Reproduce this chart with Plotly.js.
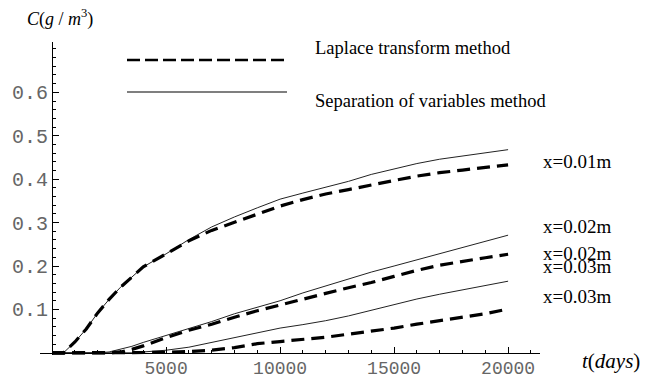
<!DOCTYPE html>
<html>
<head>
<meta charset="utf-8">
<script src="https://cdn.plot.ly/plotly-3.0.1.min.js"></script>
<style>
  html, body { margin: 0; padding: 0; background: #fff; }
  #chart { width: 661px; height: 381px; }
</style>
</head>
<body>
<div id="chart"></div>
<script>
// Time axis (days)
const days = [0, 500, 1000, 1500, 2000, 2500, 3000, 3500, 4000, 5000, 6000, 7000, 8000,
              9000, 10000, 11000, 12000, 13000, 14000, 15000, 16000, 17000, 18000, 19000, 20000];

// Concentration C (g/m^3), separation of variables method
const sepX01 = [0, 0, 0.025, 0.055, 0.092, 0.123, 0.151, 0.175, 0.198, 0.228, 0.261, 0.290, 0.313,
                0.334, 0.354, 0.368, 0.382, 0.395, 0.411, 0.424, 0.436, 0.446, 0.453, 0.461, 0.468];
const sepX02 = [0, 0, 0, 0, 0, 0.002, 0.008, 0.015, 0.024, 0.040, 0.056, 0.072, 0.090,
                0.105, 0.120, 0.138, 0.154, 0.170, 0.186, 0.200, 0.214, 0.229, 0.243, 0.257, 0.271];
const sepX03 = [0, 0, 0, 0, 0, 0, 0, 0, 0.002, 0.006, 0.013, 0.024, 0.035,
                0.046, 0.057, 0.065, 0.074, 0.085, 0.098, 0.111, 0.124, 0.135, 0.145, 0.155, 0.165];

// Concentration C (g/m^3), Laplace transform method
const lapX01 = [0, 0, 0.025, 0.055, 0.092, 0.123, 0.151, 0.175, 0.198, 0.228, 0.258, 0.282, 0.301,
                0.320, 0.338, 0.353, 0.366, 0.376, 0.387, 0.397, 0.407, 0.415, 0.421, 0.427, 0.433];
const lapX02 = [0, 0, 0, 0, 0, 0, 0.002, 0.008, 0.016, 0.035, 0.052, 0.066, 0.082,
                0.097, 0.110, 0.124, 0.137, 0.150, 0.162, 0.176, 0.190, 0.202, 0.211, 0.219, 0.227];
const lapX03 = [0, 0, 0, 0, 0, 0, 0, 0, 0, 0.001, 0.003, 0.006, 0.012,
                0.021, 0.026, 0.031, 0.036, 0.043, 0.050, 0.057, 0.066, 0.074, 0.082, 0.090, 0.101];

// Tick labels
const xTicks = [5000, 10000, 15000, 20000];
const xTickText = ['5000', '10000', '15000', '20000'];
const yTicks = [0.1, 0.2, 0.3, 0.4, 0.5, 0.6];
const yTickText = ['0.1', '0.2', '0.3', '0.4', '0.5', '0.6'];

// Depth labels at the right end of the curves
const depthLabels = ['x=0.01m', 'x=0.02m', 'x=0.02m', 'x=0.03m', 'x=0.03m'];

const solidStyle = { color: '#222', width: 1 };
const dashStyle = { color: '#000', width: 3.2, dash: '13px,7px' };

const sepSeries = [sepX01, sepX02, sepX03];
const lapSeries = [lapX01, lapX02, lapX03];

const traces = [];
sepSeries.forEach(s => traces.push({ x: days, y: s, type: 'scatter', mode: 'lines',
  line: solidStyle, hoverinfo: 'skip', showlegend: false }));
lapSeries.forEach(s => traces.push({ x: days, y: s, type: 'scatter', mode: 'lines',
  line: dashStyle, hoverinfo: 'skip', showlegend: false }));

// plot area: 40..540 px horizontally, 42..355 px vertically
const L = 40, R = 540, T = 42, B = 355;
const px = v => (v - L) / (R - L);
const py = v => (B - v) / (B - T);

const xRange = [-530, 21400];
const yRange = [-0.005, 0.716];

const serif = 'Liberation Serif, Times New Roman, serif';
const mono = 'Liberation Mono, DejaVu Sans Mono, monospace';

const labelY = [161, 226, 253, 266, 296];
const annotations = depthLabels.map((t, i) => ({
  text: t, xref: 'paper', yref: 'paper', x: px(541), y: py(labelY[i]),
  xanchor: 'left', yanchor: 'middle', showarrow: false,
  font: { family: serif, size: 19, color: '#000' }
}));

annotations.push(
  { text: 'Laplace transform method', xref: 'paper', yref: 'paper', x: px(313), y: py(48),
    xanchor: 'left', yanchor: 'middle', showarrow: false, font: { family: serif, size: 18.5, color: '#000' } },
  { text: 'Separation of variables method', xref: 'paper', yref: 'paper', x: px(313), y: py(101),
    xanchor: 'left', yanchor: 'middle', showarrow: false, font: { family: serif, size: 18.5, color: '#000' } },
  { text: '<i>C</i>(<i>g</i> / <i>m</i><sup>3</sup>)', xref: 'paper', yref: 'paper', x: px(25), y: py(18),
    xanchor: 'left', yanchor: 'middle', showarrow: false, font: { family: serif, size: 18, color: '#000' } },
  { text: '<i>t</i>(<i>days</i>)', xref: 'paper', yref: 'paper', x: px(580), y: py(361),
    xanchor: 'left', yanchor: 'middle', showarrow: false, font: { family: serif, size: 21, color: '#000' } }
);

const shapes = [
  { type: 'line', xref: 'paper', yref: 'paper', x0: px(127), x1: px(287), y0: py(60), y1: py(60),
    line: { color: '#000', width: 2.6, dash: '13px,5px' } },
  { type: 'line', xref: 'paper', yref: 'paper', x0: px(127), x1: px(287), y0: py(92), y1: py(92),
    line: { color: '#000', width: 1.2 } }
];

const layout = {
  width: 661, height: 381,
  margin: { l: L, r: 661 - R, t: T, b: 381 - B, pad: 0 },
  paper_bgcolor: '#fff', plot_bgcolor: '#fff',
  showlegend: false,
  xaxis: {
    range: xRange, showgrid: false, zeroline: false,
    showline: true, linecolor: '#000', linewidth: 1.2,
    anchor: 'free', position: -yRange[0] / (yRange[1] - yRange[0]),
    tickvals: xTicks, ticktext: xTickText,
    ticks: 'inside', ticklen: 6, tickwidth: 1, tickcolor: '#000',
    minor: { dtick: 1000, tick0: 0, ticks: 'inside', ticklen: 3, tickwidth: 1, tickcolor: '#000' },
    tickfont: { family: mono, size: 18, color: '#666' },
    ticklabelstandoff: -2
  },
  yaxis: {
    range: yRange, showgrid: false, zeroline: false,
    showline: true, linecolor: '#000', linewidth: 1.2,
    anchor: 'free', position: -xRange[0] / (xRange[1] - xRange[0]),
    tickvals: yTicks, ticktext: yTickText,
    ticks: 'inside', ticklen: 6, tickwidth: 1, tickcolor: '#000',
    minor: { dtick: 0.02, tick0: 0, ticks: 'inside', ticklen: 3, tickwidth: 1, tickcolor: '#000' },
    tickfont: { family: mono, size: 20, color: '#666' },
    ticklabelstandoff: 0
  },
  annotations: annotations,
  shapes: shapes
};

Plotly.newPlot('chart', traces, layout, { staticPlot: true, displayModeBar: false });
</script>
</body>
</html>
